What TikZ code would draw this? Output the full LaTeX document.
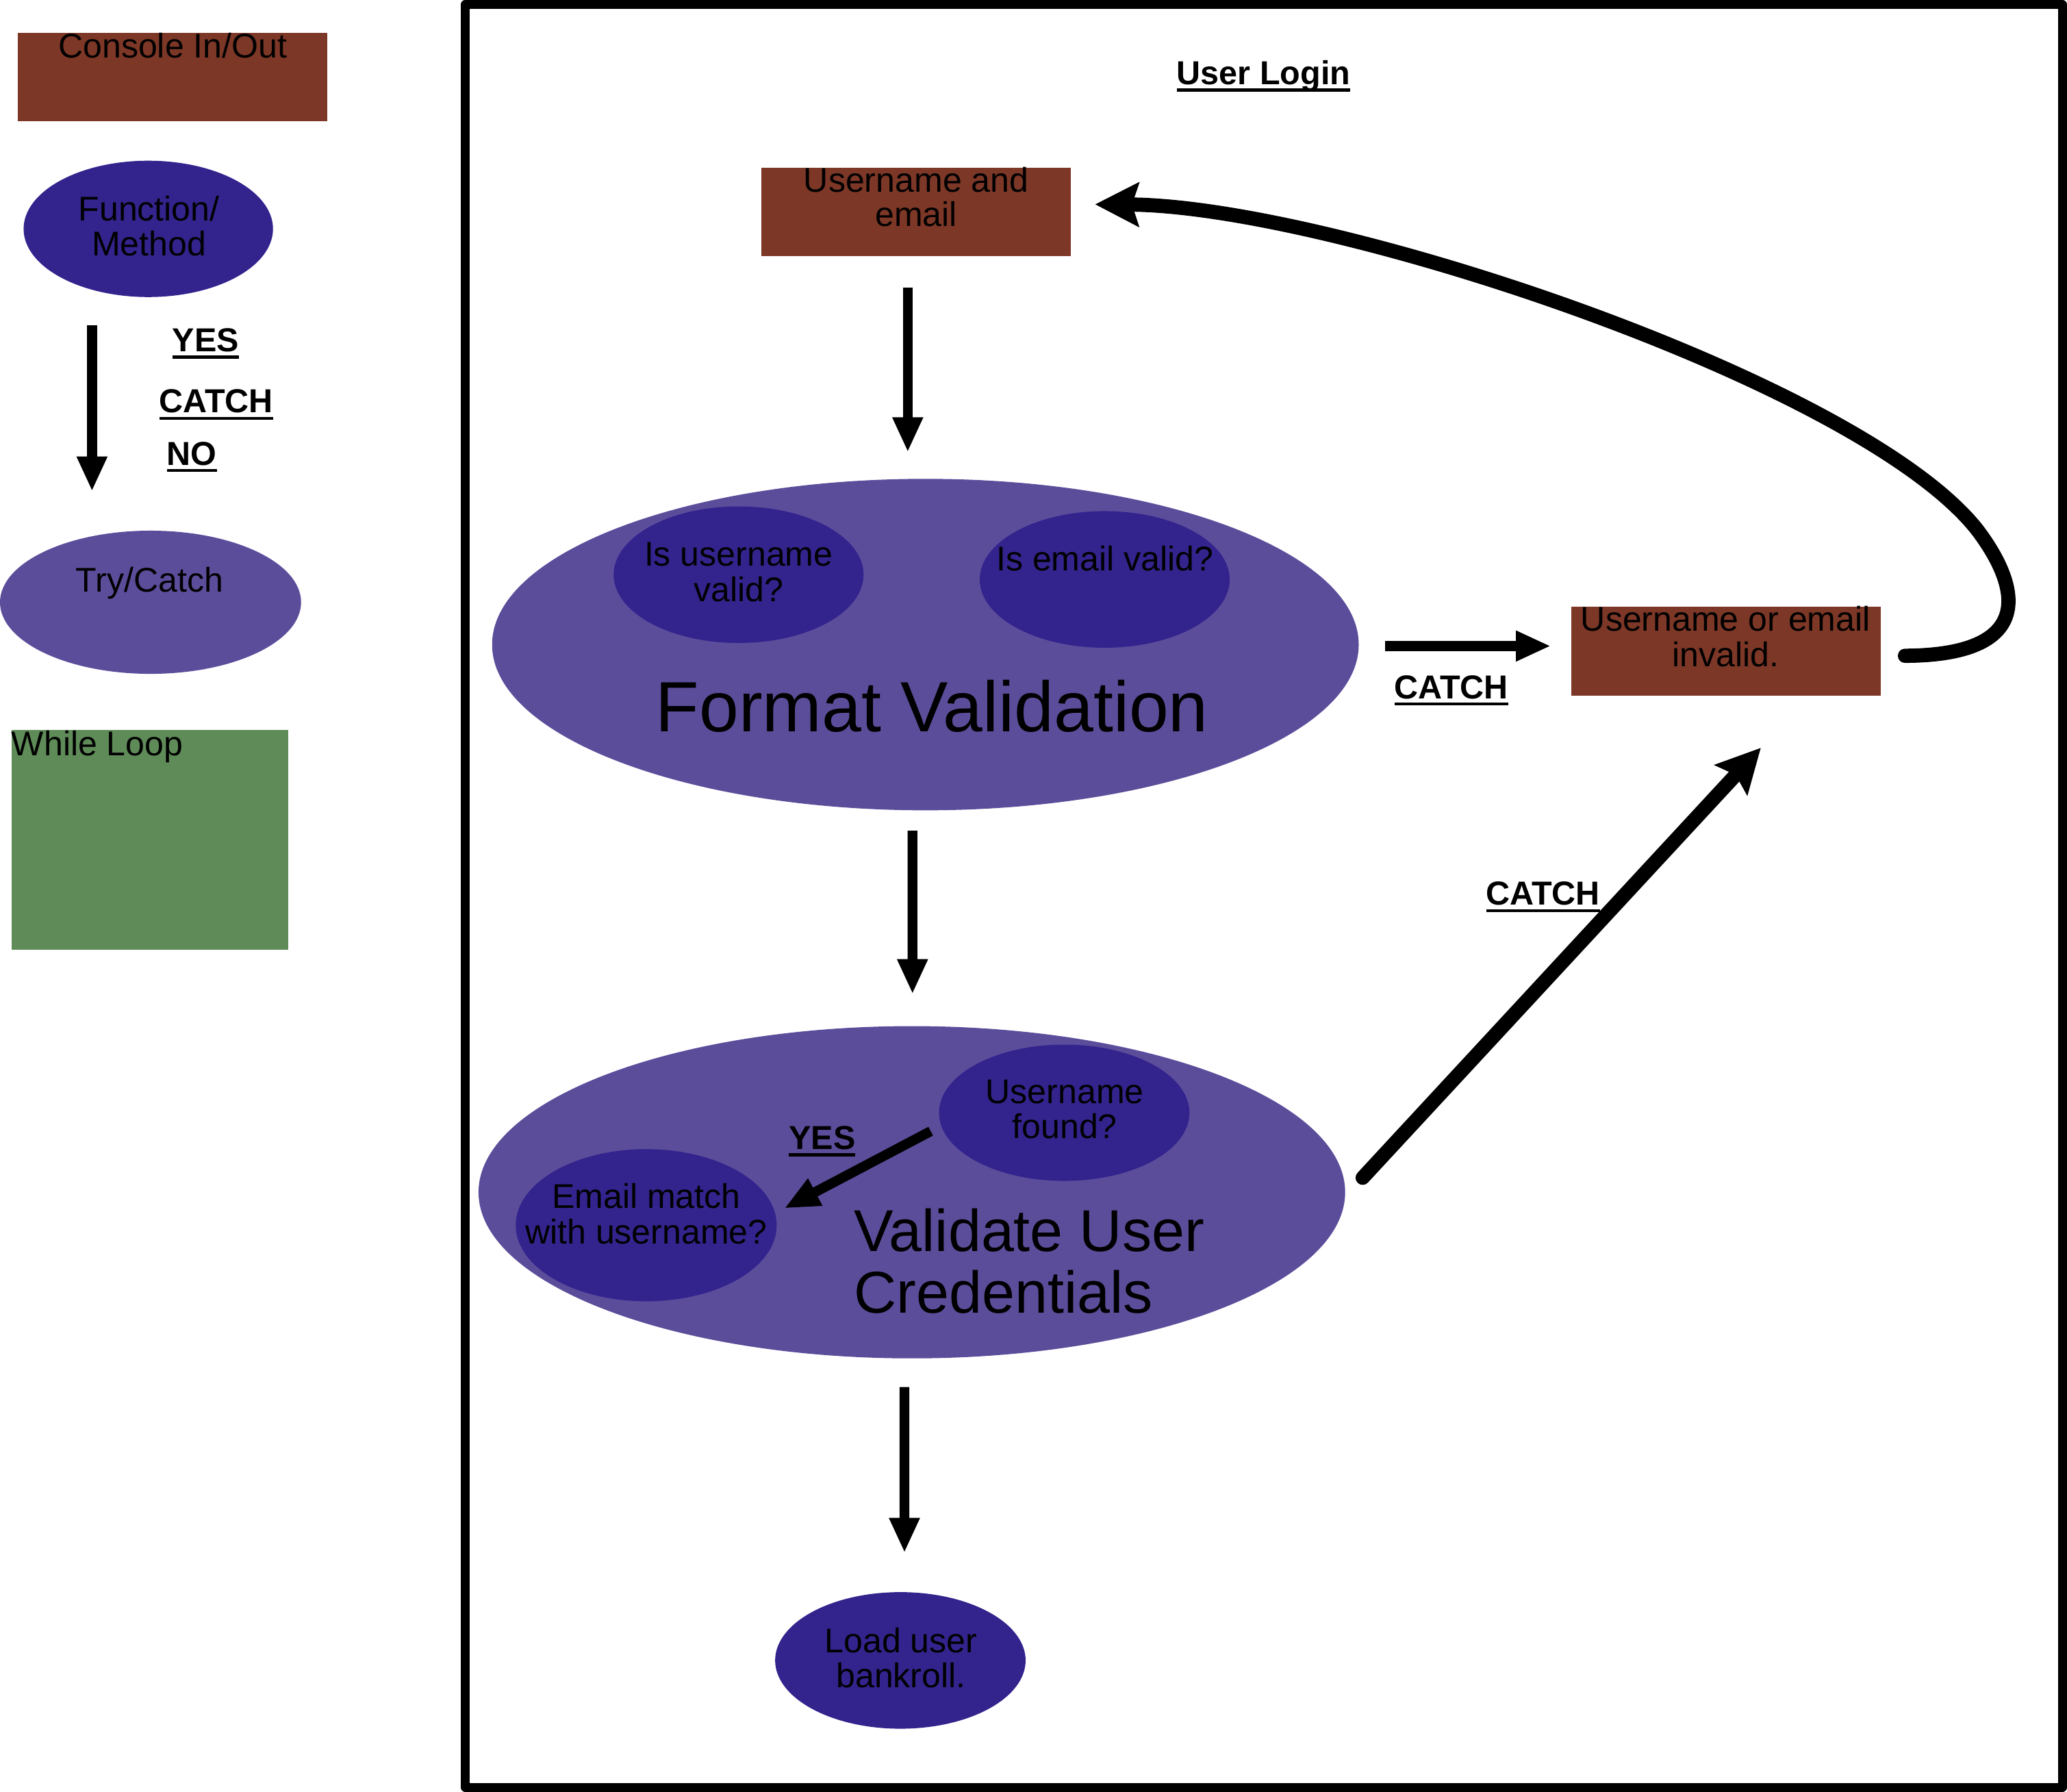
\documentclass[tikz,border=0pt]{standalone}
\usepackage{fontspec}
\setmainfont{Liberation Sans}
\usetikzlibrary{shapes.geometric, arrows.meta}
\definecolor{ioBrown}{HTML}{7D3727}
\definecolor{fnBlue}{HTML}{33238D}
\definecolor{tcPurple}{HTML}{5C4D9B}
\definecolor{loopGreen}{HTML}{5F8B58}
\newcommand\ulbl[1]{\setbox0=\hbox{#1}\rlap{\rule[-2.7pt]{\wd0}{1.1pt}}\box0}
\begin{document}
\begin{tikzpicture}[x=0.5pt, y=-0.5pt,
 every node/.style={inner sep=0pt, outer sep=0pt},
 txt/.style={anchor=base, font=\fontsize{13pt}{13pt}\selectfont},
 lbl/.style={anchor=base, font=\fontsize{12.6pt}{12.6pt}\selectfont\bfseries},
 iobox/.style={rectangle, fill=ioBrown, minimum width=117.3pt, minimum height=33.5pt},
 fnell/.style={ellipse, fill=fnBlue},
 tcell/.style={ellipse, fill=tcPurple},
 flow/.style={line width=3.75pt, -{Triangle[length=13.25pt,width=10.75pt]}},
 bigflow/.style={line width=5.4pt, line cap=round, -{Stealth[length=16.5pt,width=16.5pt,inset=2.5pt]}},
]
\useasboundingbox (0,0) rectangle (1568,1359.2);

% ---------- legend ----------
\node[iobox] (lgio) at (130.75,58.3) {};
\node[txt] at (131,43.7) {Console In/Out};
\node[fnell, minimum width=94.6pt, minimum height=51.7pt] (lgfn) at (112.5,173.6) {};
\node[txt] at (113,167.3) {Function/};
\node[txt] at (113,193.8) {Method};
\coordinate (lgas) at (69.8,246.8);
\coordinate (lgae) at (69.8,372.7);
\draw[flow] (lgas) -- (lgae);
\node[lbl] at (156,266.5) {\ulbl{YES}};
\node[lbl] at (164,313) {\ulbl{CATCH}};
\node[lbl] at (145.5,352.7) {\ulbl{NO}};
\node[tcell, minimum width=114.2pt, minimum height=54.3pt] (lgtc) at (114.2,456.8) {};
\node[txt] at (113.5,449) {Try/Catch};
\node[rectangle, fill=loopGreen, minimum width=104.8pt, minimum height=83.35pt] (lgloop) at (113.6,637) {};
\node[txt, anchor=base west] at (8.8,573) {While Loop};

% ---------- frame ----------
\draw[line width=3.375pt, line join=round] (352.9,3.4) rectangle (1564.6,1355.6);
\node[lbl] at (958.5,64) {\ulbl{User Login}};

% ---------- main flow ----------
\node[iobox] (uname) at (695,160.5) {};
\node[txt] at (695,145.6) {Username and};
\node[txt] at (695,171.6) {email};

\node[tcell, minimum width=328.7pt, minimum height=125.7pt] (fmt) at (702,488.9) {};
\node[fnell, minimum width=94.8pt, minimum height=51.8pt] (isuser) at (560.3,435.9) {};
\node[txt] at (560.3,429.3) {Is username};
\node[txt] at (560.3,456.1) {valid?};
\node[fnell, minimum width=94.8pt, minimum height=51.8pt] (isemail) at (838,439.5) {};
\node[txt] at (838.2,432.8) {Is email valid?};
\node[anchor=base, font=\fontsize{27pt}{27pt}\selectfont] at (707,555) {Format Validation};

\node[iobox, minimum height=33.75pt] (inv) at (1309.25,493.75) {};
\node[txt] at (1309,478.4) {Username or email};
\node[txt] at (1309,505.6) {invalid.};

\node[tcell, minimum width=328.7pt, minimum height=126pt] (valid) at (691.7,904.3) {};
\node[fnell, minimum width=95pt, minimum height=51.7pt] (found) at (807.3,844) {};
\node[txt] at (807.7,836.8) {Username};
\node[txt] at (807.7,863.7) {found?};
\node[fnell, minimum width=99pt, minimum height=57.7pt] (match) at (490.2,929.3) {};
\node[txt] at (490.2,916.5) {Email match};
\node[txt] at (490.2,943.4) {with username?};
\node[anchor=base west, font=\fontsize{22.4pt}{22.4pt}\selectfont] at (648,949) {Validate User};
\node[anchor=base west, font=\fontsize{22.4pt}{22.4pt}\selectfont] at (648,996) {Credentials};

\node[fnell, minimum width=95pt, minimum height=51.8pt] (load) at (683,1259.4) {};
\node[txt] at (683.5,1253.4) {Load user};
\node[txt] at (683.5,1280) {bankroll.};

% ---------- labels ----------
\node[lbl] at (1101,529.8) {\ulbl{CATCH}};
\node[lbl] at (1170.5,686.5) {\ulbl{CATCH}};
\node[lbl] at (623.7,871.6) {\ulbl{YES}};

% ---------- connectors ----------
\draw[flow] ([shift={(-6.4,24)}]uname.south) -- ([shift={(-13.4,-20.2)}]fmt.north);
\draw[flow] ([shift={(-9.8,15.4)}]fmt.south) -- ([shift={(0.5,-24.3)}]valid.north);
\draw[flow] ([shift={(-5.6,21.7)}]valid.south) -- ([shift={(3.1,-29.8)}]load.north);
\draw[flow] ([shift={(19.8,1.1)}]fmt.east) -- ([shift={(-15.5,-3.75)}]inv.west);
\draw[flow] ([shift={(-6.3,14)}]found.west) -- ([shift={(5.8,-12.8)}]match.east);
\draw[bigflow] ([shift={(13.3,-11)}]valid.east) -- ([shift={(26.5,39.7)}]inv.south);
\draw[bigflow] ([shift={(18.5,3.65)}]inv.east) .. controls (1543,497) and (1534,447) .. (1500,402)
  .. controls (1412,290) and (1010,156) .. ([shift={(18.4,-5.5)}]uname.east);
\end{tikzpicture}
\end{document}
